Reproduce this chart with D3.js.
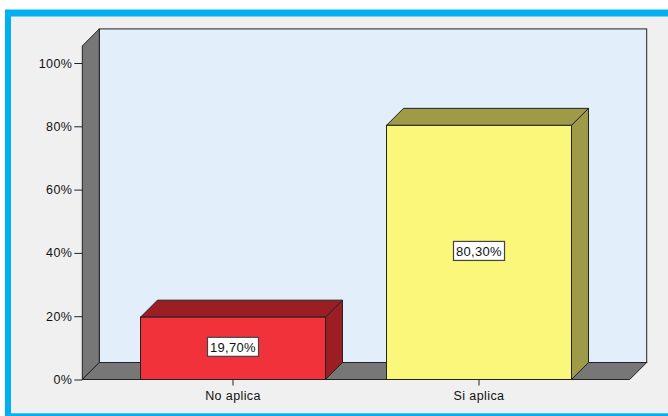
<!DOCTYPE html>
<html>
<head>
<meta charset="utf-8">
<script src="https://cdn.jsdelivr.net/npm/d3@7"></script>
<style>
html,body{margin:0;padding:0;background:#fff;}
svg{display:block;}
text{font-family:"Liberation Sans",Arial,sans-serif;fill:#111;}
</style>
</head>
<body>
<script>
const categories = ["No aplica", "Si aplica"];
const values = [19.7, 80.3];
const valueLabels = ["19,70%", "80,30%"];
const yTicks = [0, 20, 40, 60, 80, 100];
const yTickLabels = ["0%", "20%", "40%", "60%", "80%", "100%"];

const W = 668, H = 416;
const svg = d3.select("body").append("svg").attr("width", W).attr("height", H);

// frame
svg.append("rect").attr("x", 5).attr("y", 9.5).attr("width", W + 20).attr("height", H + 20).attr("fill", "#00b0f0");
svg.append("rect").attr("x", 11).attr("y", 16.5).attr("width", W).attr("height", 413.3 - 16.5).attr("fill", "#f0f0f0");

const d = 17;                 // 3D depth
const xL = 82.3, xR = 629.7;  // front plot edges
const y = d3.scaleLinear().domain([0, 100]).range([379.5, 63]);
const yTop = y(105.4);
const x = d3.scaleBand().domain(categories).range([110, 602]).paddingInner(0.248).paddingOuter(0.124);

const stroke = "#222";
const g = svg.append("g");

// back wall
g.append("rect").attr("x", xL + d).attr("y", yTop - d).attr("width", xR - xL).attr("height", y(0) - yTop)
  .attr("fill", "#e3eefb").attr("stroke", stroke).attr("stroke-width", 1);
// left wall
g.append("polygon").attr("points", [[xL, yTop], [xL + d, yTop - d], [xL + d, y(0) - d], [xL, y(0)]].map(p => p.join(",")).join(" "))
  .attr("fill", "#777777").attr("stroke", stroke).attr("stroke-width", 1);
// floor
g.append("polygon").attr("points", [[xL, y(0)], [xL + d, y(0) - d], [xR + d, y(0) - d], [xR, y(0)]].map(p => p.join(",")).join(" "))
  .attr("fill", "#777777").attr("stroke", stroke).attr("stroke-width", 1);

// y axis
const yAxis = d3.axisLeft(y).tickValues(yTicks).tickFormat((v, i) => yTickLabels[i]).tickSize(8).tickPadding(2);
const ya = svg.append("g").attr("transform", `translate(${xL},0)`).call(yAxis);
ya.select(".domain").remove();
ya.selectAll("line").attr("stroke", "#222");
ya.selectAll("text").attr("font-size", "12.5px").attr("font-family", '"Liberation Sans",Arial,sans-serif').attr("fill", "#111").attr("letter-spacing", "0.4px");

// x axis
const xAxis = d3.axisBottom(x).tickSize(6).tickPadding(6);
const xa = svg.append("g").attr("transform", `translate(0,${y(0)})`).call(xAxis);
xa.select(".domain").remove();
xa.selectAll("line").attr("stroke", "#222");
xa.selectAll("text").attr("font-size", "12.5px").attr("font-family", '"Liberation Sans",Arial,sans-serif').attr("fill", "#111").attr("letter-spacing", "0.4px");

const fronts = ["#f2323b", "#fbf77a"];
const darks = ["#9a1e24", "#9e9a47"];

const bars = g.selectAll("g.bar").data(categories).enter().append("g").attr("class", "bar");
bars.each(function (c, i) {
  const s = d3.select(this);
  const x0 = x(c), bw = x.bandwidth(), yv = y(values[i]), y0 = y(0);
  // side
  s.append("polygon").attr("points", [[x0 + bw, yv], [x0 + bw + d, yv - d], [x0 + bw + d, y0 - d], [x0 + bw, y0]].map(p => p.join(",")).join(" "))
    .attr("fill", darks[i]).attr("stroke", stroke).attr("stroke-width", 1);
  // top
  s.append("polygon").attr("points", [[x0, yv], [x0 + d, yv - d], [x0 + bw + d, yv - d], [x0 + bw, yv]].map(p => p.join(",")).join(" "))
    .attr("fill", darks[i]).attr("stroke", stroke).attr("stroke-width", 1);
  // front
  s.append("rect").attr("x", x0).attr("y", yv).attr("width", bw).attr("height", y0 - yv)
    .attr("fill", fronts[i]).attr("stroke", stroke).attr("stroke-width", 1);
  // label
  const cx = x0 + bw / 2, cy = (yv + y0) / 2 - 1.5;
  const t = s.append("text").attr("x", cx).attr("y", cy).attr("text-anchor", "middle").attr("dy", "0.36em")
    .attr("font-size", "13px").attr("letter-spacing", "0.3px").text(valueLabels[i]);
  const bb = t.node().getBBox();
  s.insert("rect", "text").attr("x", cx - 25.5).attr("y", cy - 9.5).attr("width", 51).attr("height", 19)
    .attr("fill", "#fff").attr("stroke", "#444").attr("stroke-width", 1.2);
});
</script>
</body>
</html>
